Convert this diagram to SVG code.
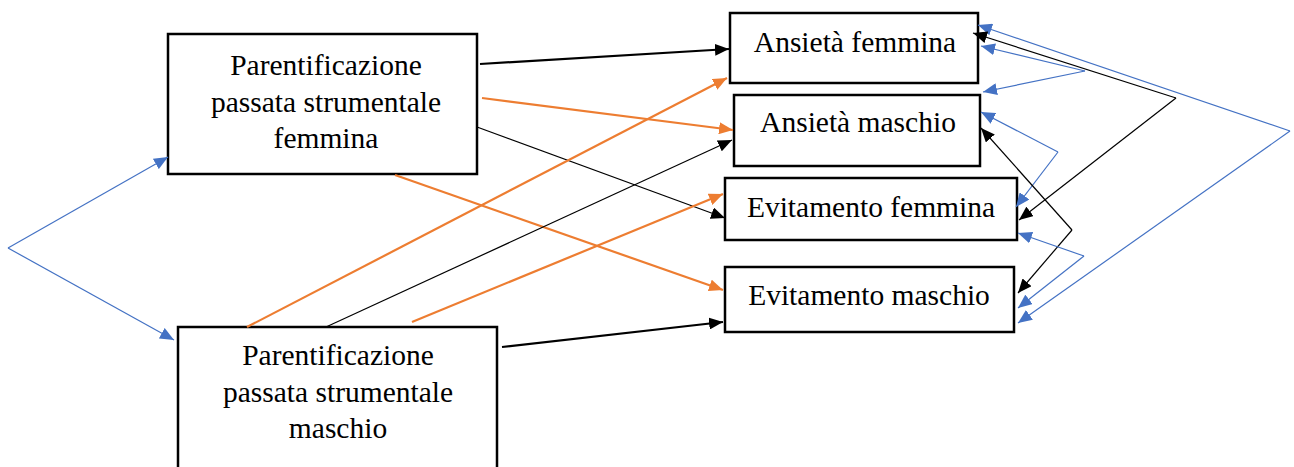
<svg xmlns="http://www.w3.org/2000/svg" width="1294" height="467" viewBox="0 0 1294 467">
  <style>
    .box { fill: #ffffff; stroke: #000000; stroke-width: 2.5; }
    .lbl { font-family: "Liberation Serif", "Times New Roman", serif; font-size: 29.5px; fill: #000000; text-anchor: middle; }
    .k2 { stroke: #000000; stroke-width: 2.2; fill: none; marker-end: url(#ahK); }
    .k1 { stroke: #000000; stroke-width: 1.2; fill: none; marker-end: url(#ahK); }
    .or { stroke: #ED7D31; stroke-width: 2.2; fill: none; marker-end: url(#ahO); }
    .bl { stroke: #4472C4; stroke-width: 1.2; fill: none; marker-end: url(#ahB); }
  </style>
  <defs>
    <marker id="ahK" viewBox="0 0 14 12" refX="14" refY="6" markerWidth="14" markerHeight="12" markerUnits="userSpaceOnUse" orient="auto">
      <path d="M0,0 L14,6 L0,12 Z" fill="#000000"/>
    </marker>
    <marker id="ahO" viewBox="0 0 14 12" refX="14" refY="6" markerWidth="14" markerHeight="12" markerUnits="userSpaceOnUse" orient="auto">
      <path d="M0,0 L14,6 L0,12 Z" fill="#ED7D31"/>
    </marker>
    <marker id="ahB" viewBox="0 0 14 12" refX="14" refY="6" markerWidth="14" markerHeight="12" markerUnits="userSpaceOnUse" orient="auto">
      <path d="M0,0 L14,6 L0,12 Z" fill="#4472C4"/>
    </marker>
  </defs>

  <rect width="1294" height="467" fill="#ffffff"/>

  <!-- nodes -->
  <g id="pf">
    <rect class="box" x="168" y="34" width="309" height="140"/>
    <text class="lbl" x="326" y="75">Parentificazione</text>
    <text class="lbl" x="326" y="112">passata strumentale</text>
    <text class="lbl" x="326" y="148">femmina</text>
  </g>
  <g id="pm">
    <rect class="box" x="178" y="327" width="319" height="160"/>
    <text class="lbl" x="338" y="365">Parentificazione</text>
    <text class="lbl" x="338" y="402">passata strumentale</text>
    <text class="lbl" x="338" y="438">maschio</text>
  </g>
  <g id="af">
    <rect class="box" x="730" y="13" width="248" height="70"/>
    <text class="lbl" x="855" y="52">Ansietà femmina</text>
  </g>
  <g id="am">
    <rect class="box" x="734" y="95" width="246" height="71"/>
    <text class="lbl" x="858" y="132">Ansietà maschio</text>
  </g>
  <g id="ef">
    <rect class="box" x="725" y="178" width="292" height="62"/>
    <text class="lbl" x="871" y="217">Evitamento femmina</text>
  </g>
  <g id="em">
    <rect class="box" x="725" y="267" width="289" height="65"/>
    <text class="lbl" x="869" y="305">Evitamento maschio</text>
  </g>

  <!-- connectors -->
  <g id="connectors">
    <!-- covariance between predictors -->
    <polyline class="bl" points="8,248 168,157"/>
    <polyline class="bl" points="8,248 174,340"/>

    <!-- paths from Parentificazione femmina -->
    <line class="k2" x1="480" y1="64" x2="729" y2="49"/>
    <line class="or" x1="482" y1="98" x2="733" y2="130"/>
    <line class="k1" x1="477" y1="127" x2="725" y2="218"/>
    <line class="or" x1="395" y1="175" x2="723" y2="290"/>

    <!-- paths from Parentificazione maschio -->
    <line class="or" x1="247" y1="327" x2="727" y2="78"/>
    <line class="k1" x1="326" y1="327" x2="732" y2="140"/>
    <line class="or" x1="412" y1="322" x2="723" y2="194"/>
    <line class="k2" x1="502" y1="347" x2="723" y2="322"/>

    <!-- residual covariances among outcomes -->
    <polyline class="bl" points="1290,131 978,25"/>
    <polyline class="bl" points="1290,131 1018,323"/>
    <polyline class="k1" points="1176,98 973,33"/>
    <polyline class="k1" points="1176,98 1019,220"/>
    <polyline class="bl" points="1085,71 981,46"/>
    <polyline class="bl" points="1085,71 983,92"/>
    <polyline class="bl" points="1058,152 981,112"/>
    <polyline class="bl" points="1058,152 1016,207"/>
    <polyline class="k1" points="1072,230 981,128"/>
    <polyline class="k1" points="1072,230 1018,293"/>
    <polyline class="bl" points="1084,256 1018,233"/>
    <polyline class="bl" points="1084,256 1018,308"/>
  </g>
</svg>
